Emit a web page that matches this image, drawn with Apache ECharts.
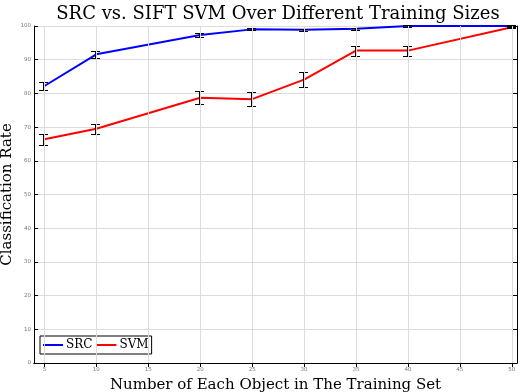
<!DOCTYPE html>
<html lang="en">
<head>
    <meta charset="UTF-8">
    <title>SRC vs. SIFT SVM</title>
    <script src="https://cdn.jsdelivr.net/npm/echarts@6/dist/echarts.min.js"></script>
    <style>
        html, body { margin: 0; padding: 0; background: #fff; }
        #chart { width: 524px; height: 392px; }
    </style>
</head>
<body>
    <div id="chart"></div>
    <script>
        // training sizes (x) and results
        const sizes = [5, 10, 20, 25, 30, 35, 40, 50];
        const xTicks = [5, 10, 15, 20, 25, 30, 35, 40, 45, 50];
        const srcRate = [82.2, 91.6, 97.3, 99.0, 98.9, 99.2, 100, 100];
        const srcErr = [1.2, 1.0, 0.5, 0.3, 0.3, 0.3, 0.2, 0.3];
        const svmRate = [66.4, 69.5, 78.7, 78.3, 84.1, 92.7, 92.7, 99.6];
        const svmErr = [1.7, 1.45, 1.9, 2.0, 2.2, 1.5, 1.5, 0.3];

        const serif = '"DejaVu Serif", "Liberation Serif", serif';
        const chart = echarts.init(document.getElementById('chart'));

        function linePoints(ys) {
            return sizes.map((x, i) => [x, ys[i]]);
        }
        function errPoints(ys, errs) {
            return sizes.map((x, i) => [x, ys[i] - errs[i], ys[i] + errs[i]]);
        }

        // vertical error bar with caps, snapped to whole pixels
        function renderErr(params, api) {
            const x = api.value(0);
            const top = api.coord([x, api.value(2)]);
            const bot = api.coord([x, api.value(1)]);
            const cx = Math.round(top[0]) - 1;
            const y1 = Math.round(top[1]);
            const y2 = Math.round(bot[1]);
            const w = 4;
            const st = { fill: '#000' };
            return {
                type: 'group',
                children: [
                    { type: 'rect', shape: { x: cx, y: y1, width: 1, height: y2 - y1 }, style: st },
                    { type: 'rect', shape: { x: cx - w, y: y1, width: 2 * w + 1, height: 1 }, style: st },
                    { type: 'rect', shape: { x: cx - w, y: y2, width: 2 * w + 1, height: 1 }, style: st }
                ]
            };
        }

        const tickLabel = { fontSize: 5.5, color: '#777', fontFamily: 'DejaVu Sans' };

        chart.setOption({
            animation: false,
            title: {
                text: 'SRC vs. SIFT SVM Over Different Training Sizes',
                left: 273,
                textAlign: 'center',
                top: 0,
                textStyle: { fontFamily: serif, fontWeight: 'normal', fontSize: 18, color: '#000' }
            },
            legend: {
                left: 40,
                top: 336,
                data: ['SRC', 'SVM'],
                orient: 'horizontal',
                icon: 'rect',
                itemWidth: 20,
                itemHeight: 2,
                itemGap: 4,
                padding: [3, 3],
                borderColor: '#000',
                borderWidth: 1,
                borderRadius: 0,
                backgroundColor: '#fff',
                textStyle: { fontFamily: serif, fontSize: 12, color: '#000', padding: [0, 0, 0, -2] }
            },
            grid: { left: 34, right: 7, top: 26, bottom: 29, outerBoundsMode: 'none' },
            xAxis: [{
                type: 'value',
                min: 4,
                max: 50.5,
                name: 'Number of Each Object in The Training Set',
                nameLocation: 'middle',
                nameGap: 3,
                nameTextStyle: { fontFamily: serif, fontSize: 15, color: '#000' },
                axisLine: { lineStyle: { color: '#000', width: 1 } },
                axisTick: { inside: true, length: 4, customValues: xTicks, lineStyle: { color: '#000' } },
                axisLabel: { customValues: xTicks, margin: 4, ...tickLabel },
                splitLine: { show: false }
            }, {
                type: 'value',
                position: 'top',
                min: 4,
                max: 50.5,
                axisLine: { lineStyle: { color: '#000', width: 1 } },
                axisTick: { inside: true, length: 4, customValues: xTicks, lineStyle: { color: '#000' } },
                axisLabel: { show: false },
                splitLine: { show: false }
            }],
            yAxis: [{
                type: 'value',
                min: 0,
                max: 100,
                interval: 10,
                name: 'Classification Rate',
                nameLocation: 'middle',
                nameGap: 19,
                nameMoveOverlap: false,
                nameTextStyle: { fontFamily: serif, fontSize: 15, color: '#000' },
                axisLine: { show: true, lineStyle: { color: '#000', width: 1 } },
                axisTick: { inside: true, length: 4, lineStyle: { color: '#000' } },
                axisLabel: { margin: 3, ...tickLabel },
                splitLine: { show: true, lineStyle: { color: '#dcdcdc', width: 1 } }
            }, {
                type: 'value',
                position: 'right',
                min: 0,
                max: 100,
                interval: 10,
                axisLine: { show: true, lineStyle: { color: '#000', width: 1 } },
                axisTick: { inside: true, length: 4, lineStyle: { color: '#000' } },
                axisLabel: { show: false },
                splitLine: { show: false }
            }],
            series: [{
                name: 'grid',
                type: 'line',
                data: [],
                silent: true,
                markLine: {
                    symbol: 'none',
                    silent: true,
                    label: { show: false },
                    lineStyle: { color: '#dcdcdc', width: 1, type: 'solid' },
                    data: xTicks.map(v => ({ xAxis: v }))
                }
            }, {
                name: 'SRC',
                type: 'line',
                data: linePoints(srcRate),
                symbol: 'none',
                color: '#0000ff',
                lineStyle: { width: 2, color: '#0000ff' },
                z: 3
            }, {
                name: 'SVM',
                type: 'line',
                data: linePoints(svmRate),
                symbol: 'none',
                color: '#ff0000',
                lineStyle: { width: 2, color: '#ff0000' },
                z: 3
            }, {
                type: 'custom',
                renderItem: renderErr,
                data: errPoints(srcRate, srcErr),
                clip: false,
                z: 4
            }, {
                type: 'custom',
                renderItem: renderErr,
                data: errPoints(svmRate, svmErr),
                clip: false,
                z: 4
            }]
        });
    </script>
</body>
</html>
